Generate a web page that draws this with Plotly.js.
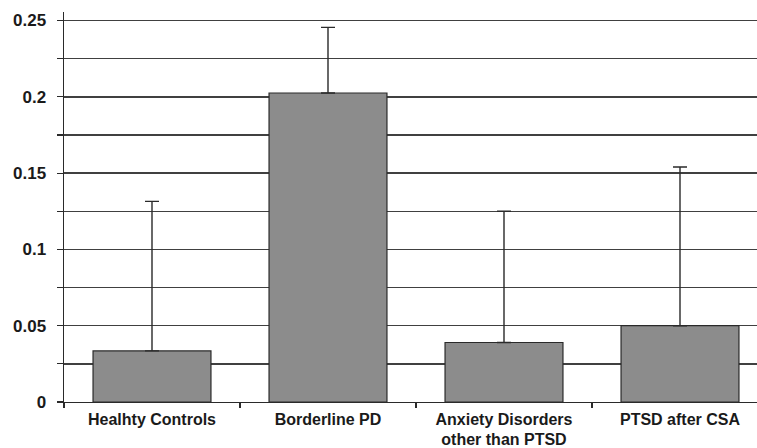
<!DOCTYPE html>
<html>
<head>
<meta charset="utf-8">
<script src="https://cdn.plot.ly/plotly-3.0.1.min.js"></script>
<style>html,body{margin:0;padding:0;overflow:hidden;background:#fff}</style>
</head>
<body>
<div id="chart" style="width:757px;height:448px"></div>
<script>
const categories = ["Healhty Controls", "Borderline PD", "Anxiety Disorders<br>other than PTSD", "PTSD after CSA"];
const values = [0.0335, 0.2025, 0.039, 0.050];
const errorsUp = [0.098, 0.043, 0.086, 0.104];
const errorsDown = [0, 0, 0, 0];
const yTickVals = [0, 0.05, 0.1, 0.15, 0.2, 0.25];
const yTickText = ["0", "0.05", "0.1", "0.15", "0.2", "0.25"];

const trace = {
  type: "bar",
  x: categories,
  y: values,
  width: 0.67,
  marker: {color: "#8c8c8c", line: {color: "#2a2a2a", width: 1.2}},
  error_y: {type: "data", symmetric: false, array: errorsUp, arrayminus: errorsDown,
            color: "#2a2a2a", thickness: 1.4, width: 7},
  hoverinfo: "skip"
};

const layout = {
  width: 757, height: 448,
  margin: {l: 64, r: 0, t: 12, b: 46},
  paper_bgcolor: "#fff", plot_bgcolor: "#fff",
  showlegend: false,
  font: {family: "Liberation Sans, Arial, sans-serif", color: "#1a1a1a"},
  xaxis: {
    type: "category",
    range: [-0.5, 3.4375],
    showline: true, linecolor: "#2a2a2a", linewidth: 1.4,
    ticks: "outside", tickson: "boundaries", ticklen: 5, tickcolor: "#2a2a2a", tickwidth: 1.2,
    showgrid: false, zeroline: false,
    tickfont: {family: "Liberation Sans, Arial, sans-serif", size: 16, weight: "bold", color: "#1a1a1a"},
    ticklabelstandoff: 2
  },
  yaxis: {
    range: [0, 0.2556],
    tickvals: yTickVals, ticktext: yTickText,
    showline: true, linecolor: "#2a2a2a", linewidth: 1.4,
    ticks: "outside", ticklen: 6, tickcolor: "#2a2a2a", tickwidth: 1.2,
    showgrid: true, gridcolor: "#404040", gridwidth: 1.5,
    zeroline: false,
    minor: {dtick: 0.025, tick0: 0, showgrid: true, gridcolor: "#404040", gridwidth: 1.5,
            ticks: "outside", ticklen: 6, tickcolor: "#2a2a2a", tickwidth: 1.2},
    tickfont: {family: "Liberation Sans, Arial, sans-serif", size: 17, weight: "bold", color: "#1a1a1a"},
    ticklabelstandoff: 7
  }
};

Plotly.newPlot("chart", [trace], layout, {staticPlot: true, displayModeBar: false});
</script>
</body>
</html>
